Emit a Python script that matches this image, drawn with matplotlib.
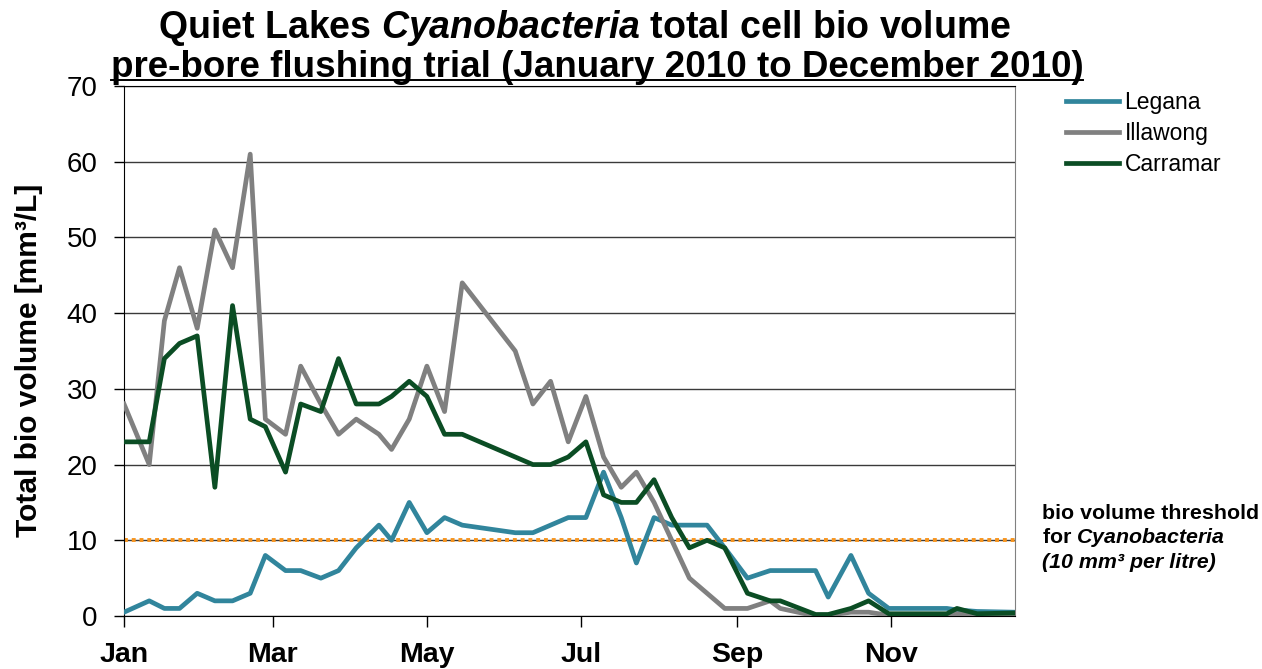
"""Quiet Lakes Cyanobacteria bio volume chart (2010)."""
import matplotlib
matplotlib.use('Agg')
import matplotlib.pyplot as plt
from matplotlib.lines import Line2D
import numpy as np

plt.rcParams['font.family'] = ['Liberation Sans', 'DejaVu Sans']
plt.rcParams['mathtext.fontset'] = 'custom'
plt.rcParams['mathtext.rm'] = 'Liberation Sans'
plt.rcParams['mathtext.it'] = 'Liberation Sans:italic'
plt.rcParams['mathtext.bf'] = 'Liberation Sans:bold'
plt.rcParams['mathtext.bfit'] = 'Liberation Sans:italic:bold'

# ---------- data ----------
sample_dates = np.array([
    '2010-01-01', '2010-01-11', '2010-01-17', '2010-01-23', '2010-01-30',
    '2010-02-06', '2010-02-13', '2010-02-20', '2010-02-26', '2010-03-06',
    '2010-03-12', '2010-03-20', '2010-03-27', '2010-04-03', '2010-04-12',
    '2010-04-17', '2010-04-24', '2010-05-01', '2010-05-08', '2010-05-15',
    '2010-06-05', '2010-06-12', '2010-06-19', '2010-06-26', '2010-07-03',
    '2010-07-10', '2010-07-17', '2010-07-23', '2010-07-30', '2010-08-06',
    '2010-08-13', '2010-08-20', '2010-08-27', '2010-09-05', '2010-09-14',
    '2010-09-18', '2010-10-02', '2010-10-07', '2010-10-16', '2010-10-23',
    '2010-10-31', '2010-11-23', '2010-11-27', '2010-12-05', '2010-12-20',
], dtype='datetime64[D]')

legana = [0.5, 2, 1, 1, 3, 2, 2, 3, 8, 6,
          6, 5, 6, 9, 12, 10, 15, 11, 13, 12,
          11, 11, 12, 13, 13, 19, 13, 7, 13, 12,
          12, 12, 9, 5, 6, 6, 6, 2.5, 8, 3,
          1, 1, 0.8, 0.6, 0.5]
illawong = [28, 20, 39, 46, 38, 51, 46, 61, 26, 24,
            33, 28, 24, 26, 24, 22, 26, 33, 27, 44,
            35, 28, 31, 23, 29, 21, 17, 19, 15, 10,
            5, 3, 1, 1, 2, 1, 0, 0.1, 0.5, 0.5,
            0.1, 0.2, 0.3, 0.2, 0.3]
carramar = [23, 23, 34, 36, 37, 17, 41, 26, 25, 19,
            28, 27, 34, 28, 28, 29, 31, 29, 24, 24,
            21, 20, 20, 21, 23, 16, 15, 15, 18, 13,
            9, 10, 9, 3, 2, 2, 0.2, 0.2, 1, 2,
            0.3, 0.3, 1, 0.3, 0.4]

threshold = 10
x_range = np.array(['2010-01-01', '2010-12-20'], dtype='datetime64[D]')
tick_dates = np.array(['2010-01-01', '2010-03-01', '2010-05-01',
                       '2010-07-01', '2010-09-01', '2010-11-01'], dtype='datetime64[D]')
tick_labels = ['Jan', 'Mar', 'May', 'Jul', 'Sep', 'Nov']

W, H = 1262, 669
fig = plt.figure(figsize=(W / 100, H / 100), dpi=100)
ax = fig.add_axes([124 / W, 1 - 616 / H, (1015 - 124) / W, (616 - 86) / H])

ax.plot(sample_dates, legana, color='#31859C', lw=3.4, label='Legana', zorder=3)
ax.plot(sample_dates, illawong, color='#808080', lw=3.4, label='Illawong', zorder=3)
ax.plot(sample_dates, carramar, color='#0B4D24', lw=3.4, label='Carramar', zorder=3)
ax.axhline(threshold, color='#F7941D', lw=2.8, linestyle=(0, (1, 1)), zorder=2)

ax.set_xlim(x_range[0], x_range[1])
ax.set_ylim(0, 70)
ax.set_yticks(range(0, 71, 10))
ax.set_xticks(tick_dates, tick_labels, fontweight='bold', fontsize=20.5)
ax.tick_params(axis='y', labelsize=20, length=7, width=1, pad=12)
ax.tick_params(axis='x', length=8, width=1, pad=11)
ax.yaxis.grid(True, color='#3a3a3a', lw=1)
ax.set_axisbelow(True)
for side in ['left', 'bottom', 'top']:
    ax.spines[side].set_color('black')
ax.spines['right'].set_color('#808080')

ax.legend(loc='upper left', bbox_to_anchor=(1066 / W, 1 - 91 / H),
          bbox_transform=fig.transFigure, frameon=False, fontsize=16.5,
          handlelength=2.3, handletextpad=0.25, labelspacing=0.35,
          borderpad=0, borderaxespad=0)

fig.text(29 / W, 1 - 360 / H, 'Total bio volume [mm³/L]', rotation=90,
         ha='center', va='center', fontsize=21.5, fontweight='bold')

# threshold note
note_x = 1042 / W
fig.text(note_x, 1 - 519 / H, 'bio volume threshold', fontsize=15.4,
         fontweight='bold', va='baseline')
fig.text(note_x, 1 - 543 / H, r'for $\mathbfit{Cyanobacteria}$', fontsize=15.4,
         fontweight='bold', va='baseline')
fig.text(note_x, 1 - 568 / H, '(10 mm³ per litre)', fontsize=15.4,
         fontweight='bold', fontstyle='italic', va='baseline')

# title
fig.text(585 / W, 1 - 38 / H,
         r'Quiet Lakes $\mathbfit{Cyanobacteria}$ total cell bio volume',
         ha='center', va='baseline', fontsize=27, fontweight='bold')
t2 = fig.text(597 / W, 1 - 77 / H,
              'pre-bore flushing trial (January 2010 to December 2010)',
              ha='center', va='baseline', fontsize=26.5, fontweight='bold')

fig.canvas.draw()
bb = t2.get_window_extent()
uy = 1 - 80 / H
fig.add_artist(Line2D([bb.x0 / W, bb.x1 / W], [uy, uy], color='black', lw=1.4,
                      transform=fig.transFigure))

fig.savefig('out.png', dpi=100)
plt.close(fig)
